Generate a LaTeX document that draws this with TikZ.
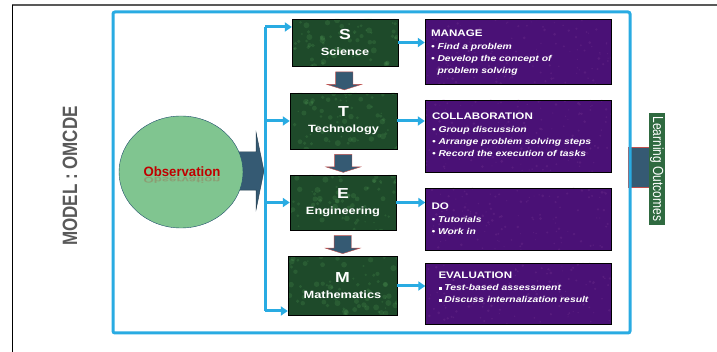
\documentclass[tikz,border=0pt]{standalone}
\usepackage{fontspec}
\setmainfont{Liberation Sans}[FakeStretch=1.22]
\newfontfamily\plainsans{Liberation Sans}
\usetikzlibrary{shapes.geometric, shapes.arrows, arrows.meta, positioning, calc}

\definecolor{stemgreen}{HTML}{1E4A2A}
\definecolor{taskpurple}{HTML}{4A1176}
\definecolor{linkblue}{HTML}{29ABE2}
\definecolor{slate}{HTML}{355A73}
\definecolor{edgered}{HTML}{C0504D}
\definecolor{obsgreen}{HTML}{80C590}
\definecolor{obsedge}{HTML}{1F4E6B}
\definecolor{obsred}{HTML}{C00000}
\definecolor{outgreen}{HTML}{2F6A40}

\pgfmathsetseed{42}
\tikzset{
  stem/.style={rectangle, draw=black, fill=stemgreen, text=white, align=center, inner sep=0pt,
    font=\bfseries\fontsize{10.5}{16}\selectfont,
    path picture={
      \foreach \k in {1,...,80}
        \fill[green!45!white, opacity=0.10] (path picture bounding box.center)
          ++({rand*56pt},{rand*31pt}) circle[radius={0.8pt+2.2pt*rnd}];
    }},
  task/.style={rectangle, draw=black, fill=taskpurple, minimum width=186pt, inner sep=0pt,
    path picture={
      \foreach \k in {1,...,160}
        \fill[violet!55!white, opacity=0.12] (path picture bounding box.center)
          ++({rand*94pt},{rand*37pt}) circle[radius={0.5pt+1pt*rnd}];
    }},
  tasktext/.style={text=white, align=left, inner sep=0pt,
    font=\bfseries\itshape\fontsize{8.5}{11.8}\selectfont},
  link/.style={-{Triangle[length=7pt, width=9pt]}, line width=3pt, draw=linkblue},
  flowarrow/.style={single arrow, shape border rotate=270, single arrow head extend=8.5pt,
    single arrow tip angle=145, minimum height=18pt, inner xsep=8.5pt, inner ysep=0pt,
    draw=edgered, fill=slate},
}
\newcommand{\stemletter}[1]{{\fontsize{14.5}{14.5}\selectfont #1}}
\newcommand{\tasktitle}[1]{{\upshape\fontsize{9.5}{11}\selectfont #1}}
\newcommand{\taskitem}{\textbullet\ }
\newcommand{\tasksquare}{\rule[0.5pt]{3pt}{3pt}\ }

\begin{document}
\begin{tikzpicture}[x=1pt, y=-1pt]
  \useasboundingbox (0,0) rectangle (717,352);

  % page frame
  \draw[line width=2pt, black!65] (12,5) -- (717,5);
  \draw[line width=0.8pt] (12,5) -- (12,352);
  \node[rotate=90, text=black!65, font=\plainsans\bfseries\fontsize{17}{17}\selectfont] (model) at (70,176)
    {\scalebox{1}[1.22]{MODEL : OMCDE}};

  % link to the outcomes
  \node[fill=slate, draw=edgered, minimum width=21pt, minimum height=40pt, inner sep=0pt] (bridge) at (638.5,167) {};
  \node[rotate=-90, fill=outgreen, text=white, minimum width=112pt, minimum height=16pt, inner sep=0pt,
    font=\plainsans\fontsize{12}{12}\selectfont] (outcomes) at (657,169)
    {\scalebox{1}[1.22]{Learning Outcomes}};

  \draw[linkblue, line width=3pt, rounded corners=2pt] (113,12) rectangle (630,333);

  % observation
  \node[single arrow, fill=slate, draw=slate!70!black, minimum height=62pt, inner xsep=0pt, inner ysep=19pt,
    single arrow head extend=19.5pt, single arrow tip angle=157] (obs arrow) at (231,171) {};
  \node[ellipse, draw=obsedge, fill=obsgreen, minimum width=124pt, minimum height=112pt] (obs) at (181,172) {};
  \node[text=obsred, inner sep=0pt, font=\bfseries\fontsize{13.5}{13.5}\selectfont] (obs txt) at (182,172)
    {\scalebox{0.8}[1]{Observation}};
  \node[text=obsred, opacity=0.2, inner sep=0pt, anchor=base, font=\bfseries\fontsize{13.5}{13.5}\selectfont] (obs mirror)
    at ([yshift=-1pt]obs txt.base) {\scalebox{0.8}[-0.6]{Observation}};

  % S T E M
  \node[stem, minimum width=106pt, minimum height=47pt] (s) at (345,42.5) {\stemletter{S}\\ Science};
  \node[stem, minimum width=107pt, minimum height=56pt] (t) at (343.5,121) {\stemletter{T}\\ Technology};
  \node[stem, minimum width=106pt, minimum height=55pt] (e) at (343,202.5) {\stemletter{E}\\ Engineering};
  \node[stem, minimum width=109pt, minimum height=59pt] (m) at (342.5,286) {\stemletter{M}\\ Mathematics};

  \node[flowarrow] (s to t) at ($(s.south)!0.5!(t.north)$) {};
  \node[flowarrow] (t to e) at ($(t.south)!0.5!(e.north)$) {};
  \node[flowarrow] (e to m) at ($(e.south)!0.5!(m.north)$) {};

  % activities
  \node[task, minimum height=65pt] (manage) at (518,51.5) {};
  \node[task, minimum height=72pt] (collab) at (518,136) {};
  \node[task, minimum height=62pt] (do) at (518.5,219) {};
  \node[task, minimum height=61pt] (eval) at (518.5,293.5) {};

  \node[tasktext, below right=11pt and 6pt of manage.north west] (manage txt)
    {\tasktitle{MANAGE}\\[1.5pt] \taskitem Find a problem\\ \taskitem Develop the concept of\\
     \phantom{\taskitem}problem solving};
  \node[tasktext, below right=13pt and 7pt of collab.north west] (collab txt)
    {\tasktitle{COLLABORATION}\\[1.5pt] \taskitem Group discussion\\ \taskitem Arrange problem solving steps\\
     \taskitem Record the execution of tasks};
  \node[tasktext, below right=15pt and 6pt of do.north west] (do txt)
    {\tasktitle{DO}\\[1.5pt] \taskitem Tutorials\\ \taskitem Work in};
  \node[tasktext, below right=9pt and 13pt of eval.north west] (eval txt)
    {\tasktitle{EVALUATION}\\[0pt] \tasksquare Test-based assessment\\ \tasksquare Discuss internalization result};

  % bus from the observation
  \coordinate (bus top) at (265,27);
  \coordinate (bus bot) at (265,311);
  \draw[linkblue, line width=3pt] (bus top) -- (bus bot);
  \draw[link] (bus top) -- (bus top -| s.west);
  \draw[link] (t.west -| bus top) -- (t.west);
  \draw[link] (e.west -| bus top) -- (e.west);
  \draw[link] (bus bot) -- (bus bot -| m.west);

  \draw[link] (s.east) -- (s.east -| manage.west);
  \draw[link] (t.east) -- (t.east -| collab.west);
  \draw[link] (e.east) -- (e.east -| do.west);
  \draw[link] (m.east) -- (m.east -| eval.west);
\end{tikzpicture}
\end{document}
